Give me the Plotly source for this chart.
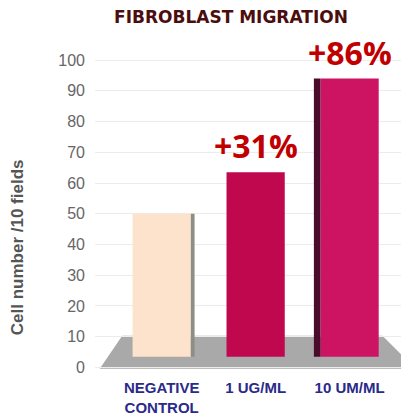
import plotly.graph_objects as go

# ---- data ----
categories = ["NEGATIVE<br>CONTROL", "1 UG/ML", "10 UM/ML"]
values = [50, 63.5, 94]
change_labels = ["", "+31%", "+86%"]
y_ticks = [0, 10, 20, 30, 40, 50, 60, 70, 80, 90, 100]

# ---- styles ----
FLOOR = 3.5
front_colors = ["#fde3cb", "#c0084f", "#cc1462"]
side_colors = ["#8c8f84", "rgba(0,0,0,0)", "#4a0c2a"]
BAR_W = 0.62
side_w = [0.04, 0.0, 0.07]
side_off = [BAR_W / 2, 0.0, -BAR_W / 2 - 0.07]

fig = go.Figure()

fig.add_trace(go.Bar(
    x=categories, y=[v - FLOOR for v in values], base=FLOOR,
    width=BAR_W, marker=dict(color=front_colors, line=dict(width=0)),
    hoverinfo="skip", showlegend=False,
))
fig.add_trace(go.Bar(
    x=categories, y=[v - FLOOR for v in values], base=FLOOR,
    width=side_w, offset=side_off,
    marker=dict(color=side_colors, line=dict(width=0)),
    hoverinfo="skip", showlegend=False,
))

# floor (decorative parallelogram)
fig.add_shape(type="path", xref="x", yref="y", layer="below",
              path="M -0.66 -0.4 L 2.7 -0.4 L 2.35 10.3 L -0.42 10.3 Z",
              fillcolor="#a9a9a9", line=dict(width=0))

for c, v, t in zip(categories, values, change_labels):
    if t:
        fig.add_annotation(x=c, y=v, text=t, showarrow=False, yanchor="bottom",
                           yshift=3,
                           font=dict(family="Open Sans", size=32, color="#c00000", weight="bold"))

fig.add_annotation(xref="paper", yref="paper", x=-0.252, y=0.39, xanchor="center", yanchor="middle",
                   text="Cell number /10 fields", textangle=-90, showarrow=False,
                   font=dict(family="Liberation Sans, Arial", size=17, color="#555555", weight="bold"))

fig.update_layout(
    width=401, height=409,
    margin=dict(l=87, r=4, t=49, b=48),
    paper_bgcolor="white", plot_bgcolor="white",
    barmode="overlay",
    title=dict(text="FIBROBLAST MIGRATION", x=0.556, xanchor="center", y=0.978, yanchor="middle",
               font=dict(family="DejaVu Sans", size=17, color="#4b0d0d", weight="bold")),
    xaxis=dict(range=[-0.71, 2.59], showgrid=False, showline=False, zeroline=False,
               ticks="", ticklabelstandoff=8, automargin=False,
               tickfont=dict(family="Liberation Sans, Arial", size=15, color="#2a2a8a", weight="bold")),
    yaxis=dict(range=[-0.5, 101], tickvals=y_ticks, showgrid=True, gridcolor="#ececec",
               zeroline=False, showline=False, ticks="", ticklabelstandoff=9, automargin=False,
               tickfont=dict(family="Liberation Sans, Arial", size=16, color="#666666")),
)

fig.write_html("out.html")
